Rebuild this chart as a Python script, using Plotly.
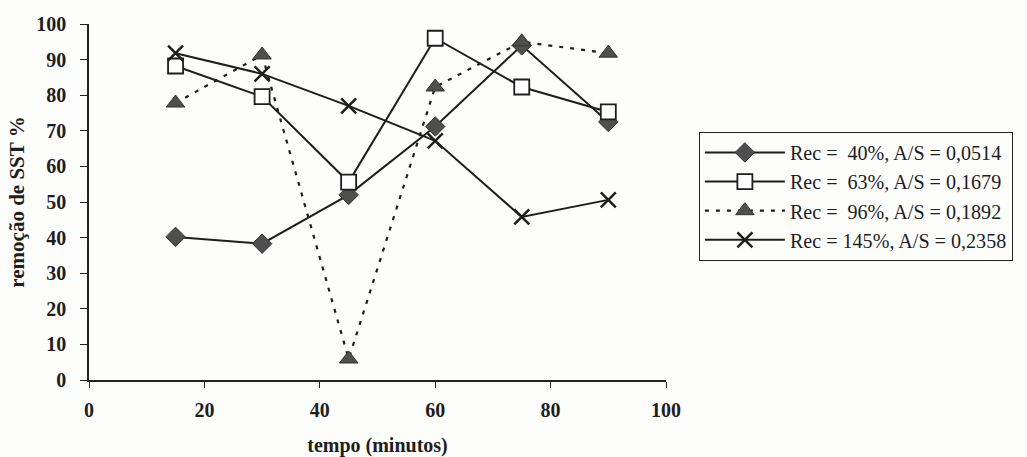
import plotly.graph_objects as go

tempo = [15, 30, 45, 60, 75, 90]
rec40 = [40.2, 38.3, 52.0, 71.2, 94.0, 72.5]
rec63 = [88.2, 79.6, 55.6, 96.0, 82.3, 75.3]
rec96 = [77.8, 91.3, 5.9, 82.3, 95.0, 91.8]
rec145 = [91.8, 86.0, 77.0, 67.2, 45.8, 50.6]

names = ["Rec = \u00a040%, A/S = 0,0514",
         "Rec = \u00a063%, A/S = 0,1679",
         "Rec = \u00a096%, A/S = 0,1892",
         "Rec = 145%, A/S = 0,2358"]

xticks = [0, 20, 40, 60, 80, 100]
yticks = [0, 10, 20, 30, 40, 50, 60, 70, 80, 90, 100]

FONT = "Liberation Serif"
LINE = "#1e1e1e"
FILL = "#4f4f4f"

fig = go.Figure()
fig.add_trace(go.Scatter(x=tempo, y=rec40, name=names[0], mode="lines+markers",
                         line=dict(color=LINE, width=2),
                         marker=dict(symbol="diamond", size=15, color=FILL,
                                     line=dict(color="#333", width=1))))
fig.add_trace(go.Scatter(x=tempo, y=rec63, name=names[1], mode="lines+markers",
                         line=dict(color=LINE, width=2),
                         marker=dict(symbol="square", size=15, color="white",
                                     line=dict(color=LINE, width=1.8))))
fig.add_trace(go.Scatter(x=tempo, y=rec96, name=names[2], mode="lines+markers",
                         line=dict(color=LINE, width=2.2, dash="4px,7px"),
                         marker=dict(symbol="triangle-up", size=16, color=FILL,
                                     line=dict(color="#333", width=1))))
fig.add_trace(go.Scatter(x=tempo, y=rec145, name=names[3], mode="lines+markers",
                         line=dict(color=LINE, width=2),
                         marker=dict(symbol="x-thin-open", size=15, color=LINE,
                                     line=dict(color=LINE, width=2.5))))

fig.update_layout(
    width=1027, height=457,
    margin=dict(l=89, r=361, t=24, b=77),
    paper_bgcolor="#fdfdfb", plot_bgcolor="#fdfdfb",
    font=dict(family=FONT, color="#1e1e1e"),
    showlegend=True,
    legend=dict(x=1.057, y=0.697, xanchor="left", yanchor="top",
                bordercolor="#222", borderwidth=1, bgcolor="#fdfdfb",
                font=dict(family=FONT, size=20.1, color="#1e1e1e"),
                itemwidth=80, tracegroupgap=0),
    xaxis=dict(range=[0, 100], tickvals=xticks, showgrid=False, zeroline=False,
               automargin=False,
               showline=True, linecolor="#222", linewidth=1.5,
               ticks="outside", ticklen=6, tickcolor="#222", tickwidth=1.2,
               tickfont=dict(family=FONT, size=20, color="#1e1e1e", weight="bold"),
               ticklabelstandoff=5,
               title=dict(text="<b>tempo (minutos)</b>", standoff=28,
                          font=dict(family=FONT, size=20, color="#1e1e1e"))),
    yaxis=dict(range=[0, 100], tickvals=yticks, showgrid=False, zeroline=False,
               automargin=False,
               showline=True, linecolor="#222", linewidth=1.5,
               ticks="outside", ticklen=7, tickcolor="#222", tickwidth=1.2,
               tickfont=dict(family=FONT, size=20, color="#1e1e1e", weight="bold"),
               ticklabelstandoff=10,
               title=dict(text="<b>remoção de SST %</b>", standoff=6,
                          font=dict(family=FONT, size=21, color="#1e1e1e"))),
)

fig.write_html("out.html")
